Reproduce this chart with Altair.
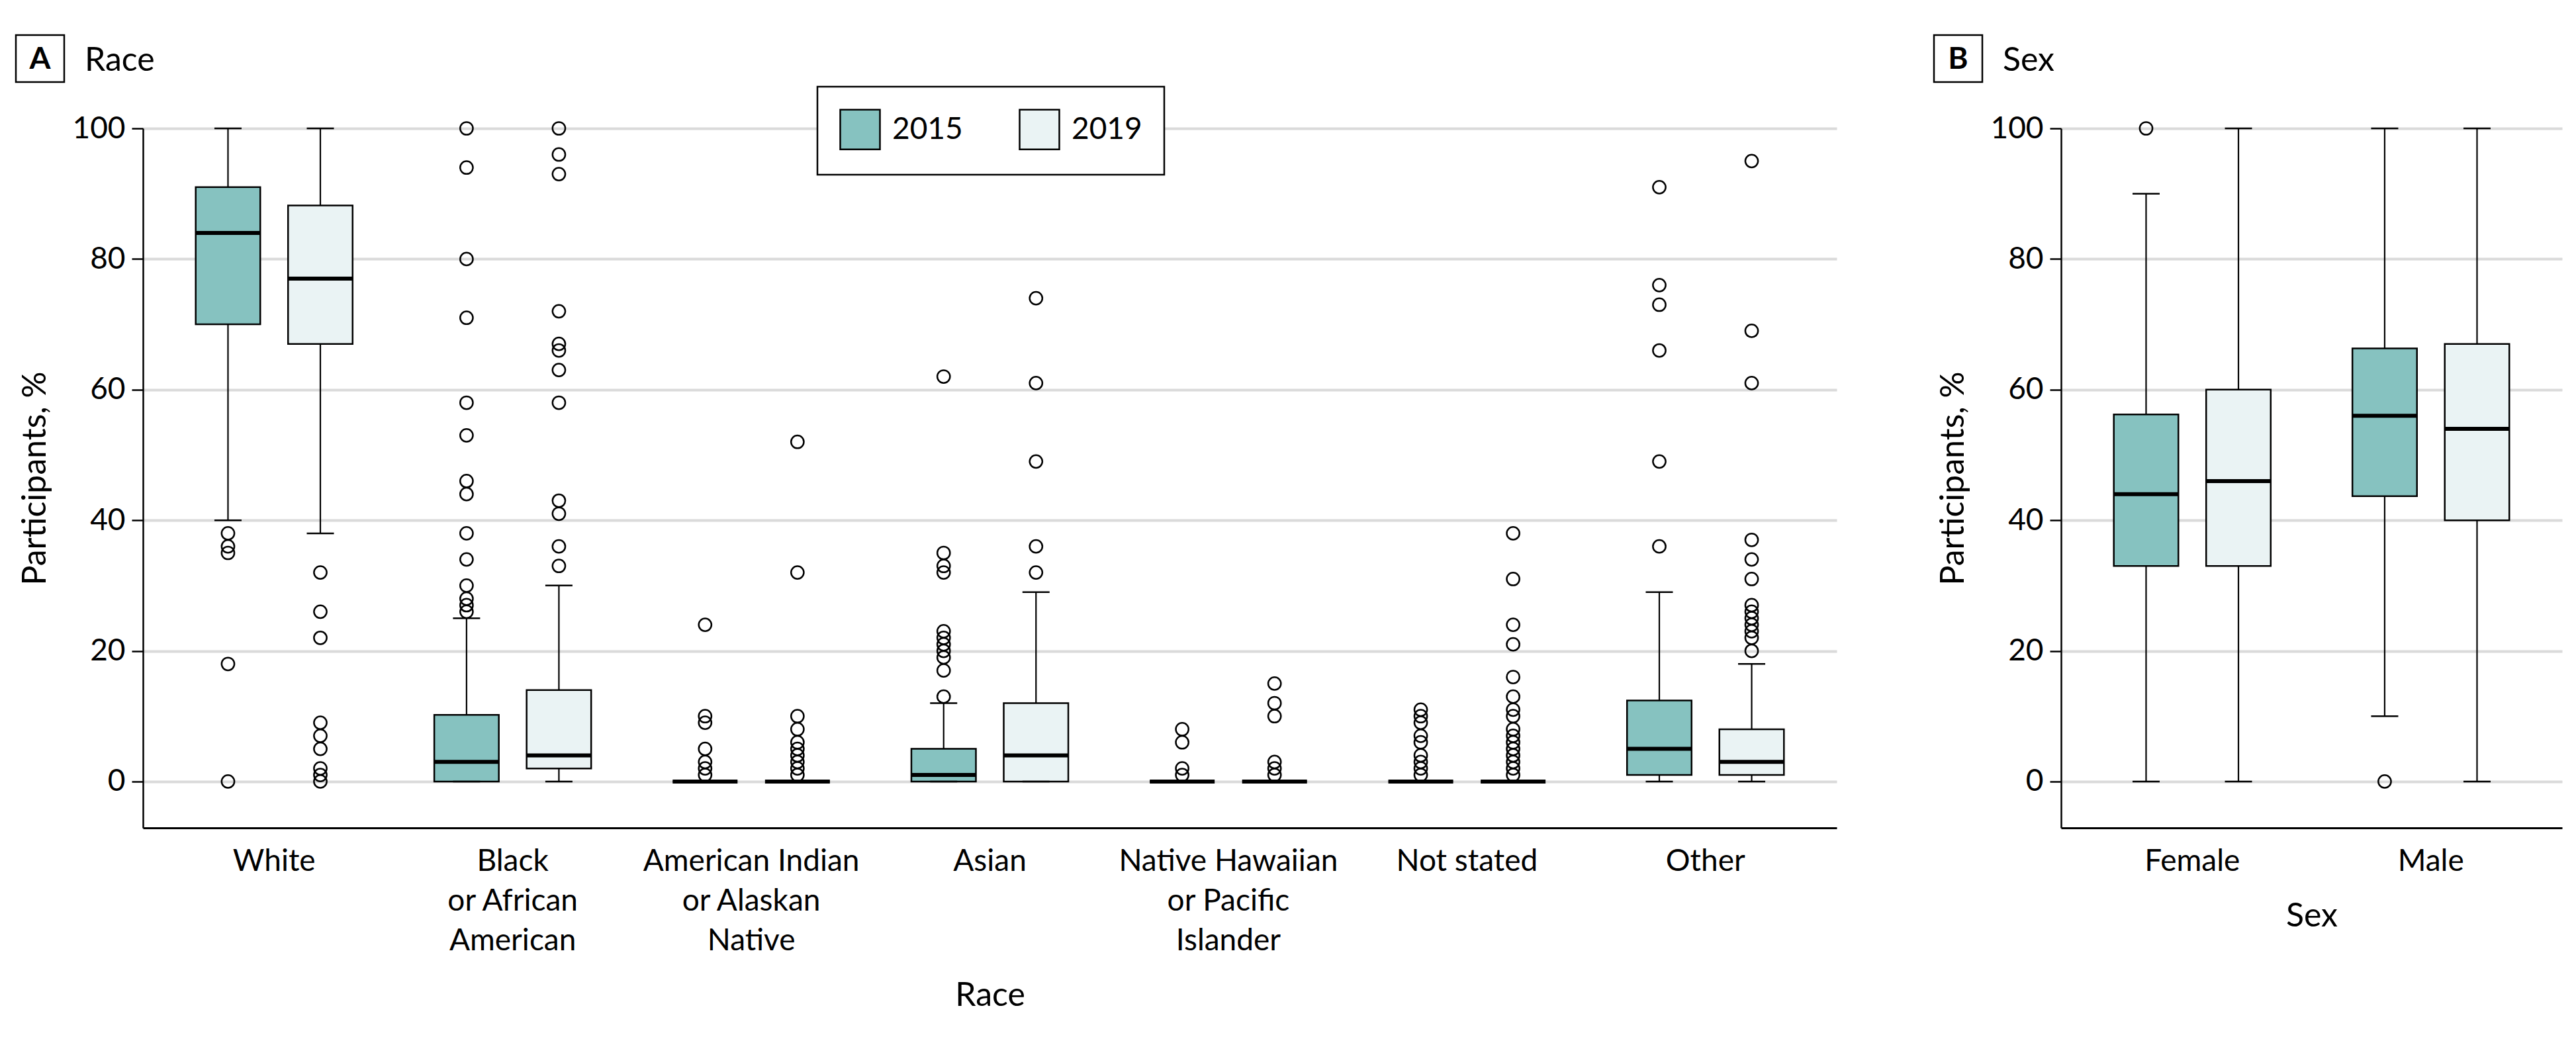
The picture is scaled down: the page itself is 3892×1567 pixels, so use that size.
import altair as alt
import pandas as pd

FONT = "Lato"
YEARS = ["2015", "2019"]
YEAR_COLORS = ["#86C2C0", "#EAF3F4"]

# ---------------- Panel A: Race ----------------
RACES = [
    "White",
    "Black or African American",
    "American Indian or Alaskan Native",
    "Asian",
    "Native Hawaiian or Pacific Islander",
    "Not stated",
    "Other",
]
RACE_LABEL_LINES = {
    "Black or African American": ["Black", "or African", "American"],
    "American Indian or Alaskan Native": ["American Indian", "or Alaskan", "Native"],
    "Native Hawaiian or Pacific Islander": ["Native Hawaiian", "or Pacific", "Islander"],
}

RACE_Q1_2015 = [70, 0, 0, 0, 0, 0, 1]
RACE_MED_2015 = [84, 3, 0, 1, 0, 0, 5]
RACE_Q3_2015 = [91, 10.2, 0, 5, 0, 0, 12.4]
RACE_LO_2015 = [40, 0, 0, 0, 0, 0, 0]
RACE_HI_2015 = [100, 25, 0, 12, 0, 0, 29]
RACE_OUT_2015 = [
    [38, 36, 35, 18, 0],
    [100, 94, 80, 71, 58, 53, 46, 44, 38, 34, 30, 28, 27, 26],
    [24, 10, 9, 5, 3, 2, 1],
    [62, 35, 33, 32, 23, 22, 21, 20, 19, 17, 13],
    [8, 6, 2, 1],
    [11, 10, 9, 7, 6, 4, 3, 2, 1],
    [91, 76, 73, 66, 49, 36],
]

RACE_Q1_2019 = [67, 2, 0, 0, 0, 0, 1]
RACE_MED_2019 = [77, 4, 0, 4, 0, 0, 3]
RACE_Q3_2019 = [88.2, 14, 0, 12, 0, 0, 8]
RACE_LO_2019 = [38, 0, 0, 0, 0, 0, 0]
RACE_HI_2019 = [100, 30, 0, 29, 0, 0, 18]
RACE_OUT_2019 = [
    [32, 26, 22, 9, 7, 5, 2, 1, 0],
    [100, 96, 93, 72, 67, 66, 63, 58, 43, 41, 36, 33],
    [52, 32, 10, 8, 6, 5, 4, 3, 2, 1],
    [74, 61, 49, 36, 32],
    [15, 12, 10, 3, 2, 1],
    [38, 31, 24, 21, 16, 13, 11, 10, 8, 7, 6, 5, 4, 3, 2, 1],
    [95, 69, 61, 37, 34, 31, 27, 26, 25, 24, 23, 22, 20],
]

# ---------------- Panel B: Sex ----------------
SEXES = ["Female", "Male"]
SEX_Q1_2015 = [33, 43.7]
SEX_MED_2015 = [44, 56]
SEX_Q3_2015 = [56.2, 66.3]
SEX_LO_2015 = [0, 10]
SEX_HI_2015 = [90, 100]
SEX_OUT_2015 = [[100], [0]]

SEX_Q1_2019 = [33, 40]
SEX_MED_2019 = [46, 54]
SEX_Q3_2019 = [60, 67]
SEX_LO_2019 = [0, 0]
SEX_HI_2019 = [100, 100]
SEX_OUT_2019 = [[], []]

Y_TICKS = [0, 20, 40, 60, 80, 100]


def build(cats, stats):
    rows, outs = [], []
    for year, (q1, med, q3, lo, hi, out) in zip(YEARS, stats):
        for i, c in enumerate(cats):
            rows.append(dict(cat=c, year=year, q1=q1[i], med=med[i], q3=q3[i], lo=lo[i], hi=hi[i]))
            for v in out[i]:
                outs.append(dict(cat=c, year=year, value=v))
    return pd.DataFrame(rows), pd.DataFrame(outs, columns=["cat", "year", "value"])


race_box, race_out = build(RACES, [
    (RACE_Q1_2015, RACE_MED_2015, RACE_Q3_2015, RACE_LO_2015, RACE_HI_2015, RACE_OUT_2015),
    (RACE_Q1_2019, RACE_MED_2019, RACE_Q3_2019, RACE_LO_2019, RACE_HI_2019, RACE_OUT_2019),
])
sex_box, sex_out = build(SEXES, [
    (SEX_Q1_2015, SEX_MED_2015, SEX_Q3_2015, SEX_LO_2015, SEX_HI_2015, SEX_OUT_2015),
    (SEX_Q1_2019, SEX_MED_2019, SEX_Q3_2019, SEX_LO_2019, SEX_HI_2019, SEX_OUT_2019),
])

race_label_expr = ""
for k, lines in RACE_LABEL_LINES.items():
    arr = "[" + ", ".join("'%s'" % s for s in lines) + "]"
    race_label_expr += "datum.label == '%s' ? %s : " % (k, arr)
race_label_expr += "datum.label"


def panel(box_df, out_df, cats, width, letter, name, x_title, label_expr, legend):
    axis_kw = dict(
        title=x_title, labelAngle=0, ticks=False, grid=False, domainColor="black",
        domainWidth=3, labelFont=FONT, labelFontSize=46, labelColor="black",
        labelPadding=28, labelLineHeight=60, labelLimit=1000, labelOverlap=False,
        titleFont=FONT, titleFontSize=50, titleFontWeight="normal", titleColor="black",
        titlePadding=35,
    )
    if label_expr:
        axis_kw["labelExpr"] = label_expr
    x = alt.X("cat:N", sort=cats,
              scale=alt.Scale(domain=cats, paddingInner=0, paddingOuter=0.05),
              axis=alt.Axis(**axis_kw))
    xo = alt.XOffset("year:N", sort=YEARS,
                     scale=alt.Scale(domain=YEARS, paddingInner=0.301, paddingOuter=0.442))
    yscale = alt.Scale(domain=[-7.1, 100], nice=False, zero=False)
    yaxis = alt.Axis(
        values=Y_TICKS, tickSize=17, tickWidth=2.5, tickColor="black",
        domainColor="black", domainWidth=2.5, labelFont=FONT, labelFontSize=46,
        labelColor="black", labelPadding=10, grid=True, gridColor="#dadada",
        gridWidth=4, titleFont=FONT, titleFontSize=50, titleFontWeight="normal",
        titleColor="black", titlePadding=30,
    )

    def Y(f):
        return alt.Y(f"{f}:Q", scale=yscale, axis=yaxis, title="Participants, %")

    base = alt.Chart(box_df)
    whisk = base.mark_rule(color="black", strokeWidth=2.2).encode(
        x=x, xOffset=xo, y=Y("lo"), y2="hi")
    box = base.mark_bar(stroke="black", strokeWidth=2.5, opacity=1).encode(
        x=x, xOffset=xo, y=Y("q1"), y2="q3",
        fill=alt.Fill("year:N", sort=YEARS,
                      scale=alt.Scale(domain=YEARS, range=YEAR_COLORS),
                      legend=legend))
    med = base.mark_tick(color="black", size=98, thickness=6, opacity=1).encode(
        x=x, xOffset=xo, y=Y("med"))
    cap_lo = base.mark_tick(color="black", size=41, thickness=2.5, opacity=1).encode(
        x=x, xOffset=xo, y=Y("lo"))
    cap_hi = base.mark_tick(color="black", size=41, thickness=2.5, opacity=1).encode(
        x=x, xOffset=xo, y=Y("hi"))
    pts = alt.Chart(out_df).mark_point(
        shape="circle", filled=False, stroke="black", strokeWidth=2.5, size=370, opacity=1
    ).encode(x=x, xOffset=xo, y=Y("value"))

    lab = alt.Chart(pd.DataFrame({"letter": [letter], "name": [name]}))
    rect = lab.mark_rect(fill="white", stroke="black", strokeWidth=2.5).encode(
        x=alt.value(-192), x2=alt.value(-119), y=alt.value(-141), y2=alt.value(-70))
    ltxt = lab.mark_text(font=FONT, fontSize=46, fontWeight="bold", align="center",
                         baseline="middle", color="black").encode(
        x=alt.value(-155.5), y=alt.value(-104), text="letter:N")
    ntxt = lab.mark_text(font=FONT, fontSize=50, align="left", baseline="alphabetic",
                         color="black").encode(
        x=alt.value(-88), y=alt.value(-87), text="name:N")

    return alt.layer(whisk, box, cap_lo, cap_hi, med, pts, rect, ltxt, ntxt).properties(
        width=width, height=1057)


legend_a = alt.Legend(
    title=None, orient="none", legendX=1019, legendY=-63, direction="horizontal",
    symbolType="square", symbolSize=3600, symbolStrokeColor="black",
    symbolStrokeWidth=2.5, symbolOpacity=1, labelFont=FONT, labelFontSize=46,
    labelColor="black", labelOffset=17, columnPadding=80, padding=33,
    strokeColor="black", fillColor="white",
)

panel_a = panel(race_box, race_out, RACES, 2559, "A", "Race", "Race", race_label_expr, legend_a)
panel_b = panel(sex_box, sex_out, SEXES, 757, "B", "Sex", "Sex", None, None)

chart = alt.hconcat(panel_a, panel_b, spacing=339, bounds="flush").resolve_scale(
    fill="independent").resolve_legend(fill="independent").properties(
    padding={"left": 14, "top": 43, "right": 10, "bottom": 10},
    background="white",
).configure_view(stroke=None).configure_legend(strokeWidth=2.5)

chart.save("out.html", embed_options={"renderer": "svg", "actions": False})
